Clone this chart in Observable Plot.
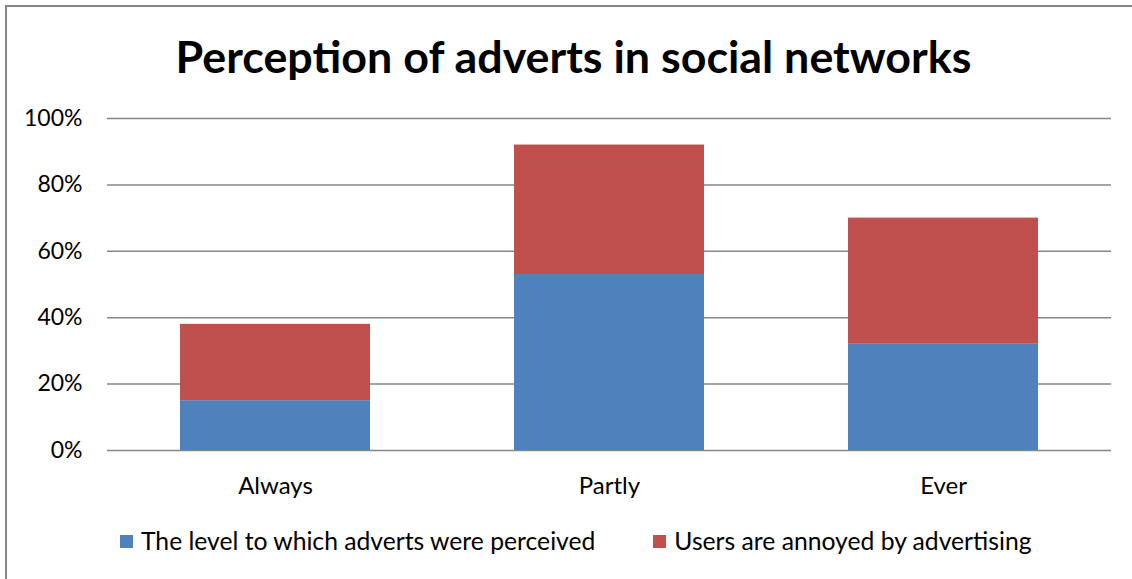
<!DOCTYPE html>
<html>
<head>
<meta charset="utf-8">
<script src="https://cdn.jsdelivr.net/npm/d3@7"></script>
<script src="https://cdn.jsdelivr.net/npm/@observablehq/plot@0.6"></script>
<style>
  html, body { margin: 0; padding: 0; background: #fff; }
  #wrap { position: relative; width: 1132px; height: 579px; overflow: hidden; font-family: Lato, sans-serif; color: #000; }
  #frame { position: absolute; left: 5px; top: 5px; width: 1200px; height: 700px; border-left: 2px solid #868686; border-top: 2px solid #868686; }
  #title { position: absolute; left: 0; width: 1147px; top: 34px; text-align: center; font-size: 44.8px; font-weight: bold; line-height: 1; }
  #chart { position: absolute; left: 0; top: 90px; }
  #legend { position: absolute; top: 528px; left: 120px; display: flex; align-items: center; font-size: 24.7px; line-height: 26px; }
  .sw { display: inline-block; width: 13px; height: 13px; margin-right: 8px; }
  .item { display: flex; align-items: center; }
</style>
</head>
<body>
<div id="wrap">
  <div id="frame"></div>
  <div id="title">Perception of adverts in social networks</div>
  <div id="chart"></div>
  <div id="legend"></div>
</div>
<script>
const categories = ["Always", "Partly", "Ever"];
const seriesNames = ["The level to which adverts were perceived", "Users are annoyed by advertising"];
const perceived = [15, 53, 32];
const annoyed = [23, 39, 38];
const colors = ["#4F81BD", "#C0504D"];
const yTicks = [0, 20, 40, 60, 80, 100];

const rows = [];
categories.forEach((c, i) => {
  rows.push({category: c, series: seriesNames[0], value: perceived[i]});
  rows.push({category: c, series: seriesNames[1], value: annoyed[i]});
});

const chart = Plot.plot({
  width: 1132,
  height: 420,
  marginTop: 28,
  marginBottom: 60,
  marginLeft: 107,
  marginRight: 21,
  style: {fontFamily: "Lato, sans-serif", fontSize: "23px", color: "#000", background: "transparent"},
  x: {domain: categories, paddingInner: 0.432, paddingOuter: 0.216, label: null, tickSize: 0, tickPadding: 26},
  y: {domain: [0, 100], ticks: yTicks, tickFormat: d => d + "%", label: null, tickSize: 0, tickPadding: 25},
  color: {domain: seriesNames, range: colors},
  marks: [
    Plot.gridY(yTicks, {stroke: "#868686", strokeOpacity: 1, strokeWidth: 1.5}),
    Plot.barY(rows, Plot.stackY({x: "category", y: "value", fill: "series", order: seriesNames, inset: 0})),
    Plot.axisX({tickSize: 0, tickPadding: 26, fontSize: 24}),
    Plot.axisY({ticks: yTicks, tickFormat: d => d + "%", tickSize: 0, tickPadding: 25, fontSize: 23})
  ]
});
document.getElementById("chart").appendChild(chart);

const legend = document.getElementById("legend");
seriesNames.forEach((name, i) => {
  const item = document.createElement("div");
  item.className = "item";
  if (i > 0) item.style.marginLeft = "58px";
  const sw = document.createElement("span");
  sw.className = "sw";
  sw.style.background = colors[i];
  const t = document.createElement("span");
  t.textContent = name;
  item.appendChild(sw);
  item.appendChild(t);
  legend.appendChild(item);
});
</script>
</body>
</html>
